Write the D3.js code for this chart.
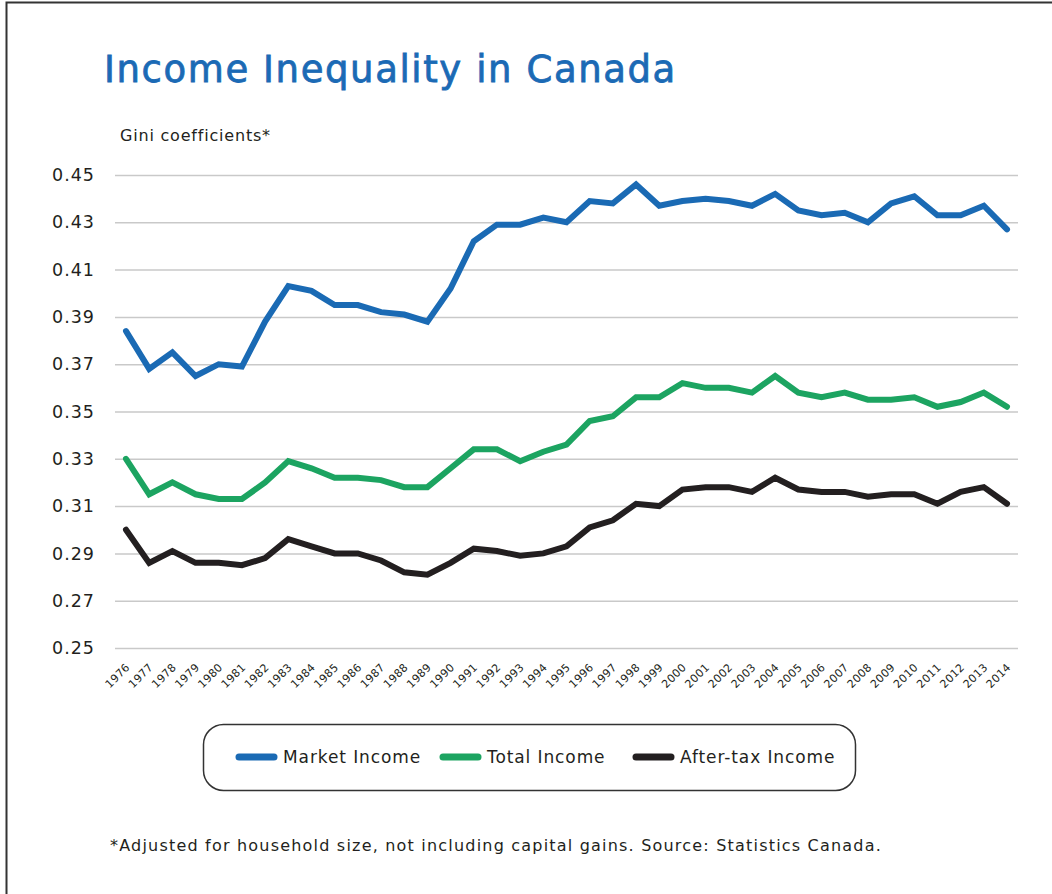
<!DOCTYPE html>
<html>
<head>
<meta charset="utf-8">
<script src="https://cdn.jsdelivr.net/npm/d3@7"></script>
<style>
  html, body { margin: 0; padding: 0; background: #fff; }
  svg { display: block; font-family: "DejaVu Sans", sans-serif; }
</style>
</head>
<body>
<div id="chart"></div>
<script>
const years = [1976, 1977, 1978, 1979, 1980, 1981, 1982, 1983, 1984, 1985, 1986, 1987, 1988, 1989,
  1990, 1991, 1992, 1993, 1994, 1995, 1996, 1997, 1998, 1999, 2000, 2001, 2002, 2003, 2004,
  2005, 2006, 2007, 2008, 2009, 2010, 2011, 2012, 2013, 2014];

const marketIncome = [0.384, 0.368, 0.375, 0.365, 0.370, 0.369, 0.388, 0.403, 0.401, 0.395, 0.395,
  0.392, 0.391, 0.388, 0.402, 0.422, 0.429, 0.429, 0.432, 0.430, 0.439, 0.438, 0.446, 0.437,
  0.439, 0.440, 0.439, 0.437, 0.442, 0.435, 0.433, 0.434, 0.430, 0.438, 0.441, 0.433, 0.433,
  0.437, 0.427];

const totalIncome = [0.330, 0.315, 0.320, 0.315, 0.313, 0.313, 0.320, 0.329, 0.326, 0.322, 0.322,
  0.321, 0.318, 0.318, 0.326, 0.334, 0.334, 0.329, 0.333, 0.336, 0.346, 0.348, 0.356, 0.356,
  0.362, 0.360, 0.360, 0.358, 0.365, 0.358, 0.356, 0.358, 0.355, 0.355, 0.356, 0.352, 0.354,
  0.358, 0.352];

const afterTaxIncome = [0.300, 0.286, 0.291, 0.286, 0.286, 0.285, 0.288, 0.296, 0.293, 0.290, 0.290,
  0.287, 0.282, 0.281, 0.286, 0.292, 0.291, 0.289, 0.290, 0.293, 0.301, 0.304, 0.311, 0.310,
  0.317, 0.318, 0.318, 0.316, 0.322, 0.317, 0.316, 0.316, 0.314, 0.315, 0.315, 0.311, 0.316,
  0.318, 0.311];

const yTicks = [0.25, 0.27, 0.29, 0.31, 0.33, 0.35, 0.37, 0.39, 0.41, 0.43, 0.45];

const seriesNames = ["Market Income", "Total Income", "After-tax Income"];
const seriesColors = ["#1a6ab4", "#1ca461", "#231f20"];

const series = [marketIncome, totalIncome, afterTaxIncome].map((vals, i) => ({
  name: seriesNames[i],
  color: seriesColors[i],
  values: vals.map((v, j) => ({ year: years[j], value: v }))
}));

const width = 1052, height = 894;
const font = "DejaVu Sans, sans-serif";

const svg = d3.select("#chart")
  .append("svg")
  .attr("width", width)
  .attr("height", height);

// frame (top and left edges only)
svg.append("path")
  .attr("d", "M6.5," + height + "V2.5H" + width)
  .attr("fill", "none")
  .attr("stroke", "#333")
  .attr("stroke-width", 2);

svg.append("text")
  .attr("x", 104)
  .attr("y", 82)
  .attr("fill", "#1b6ab5")
  .attr("stroke", "#1b6ab5")
  .attr("stroke-width", 0.8)
  .attr("font-size", 37)
  .attr("letter-spacing", 1.6)
  .text("Income Inequality in Canada");

svg.append("text")
  .attr("x", 120)
  .attr("y", 141)
  .attr("fill", "#231f20")
  .attr("font-size", 16)
  .attr("letter-spacing", 0.8)
  .text("Gini coefficients*");

const x = d3.scalePoint()
  .domain(years)
  .range([126, 1007]);

const y = d3.scaleLinear()
  .domain([0.25, 0.45])
  .range([648, 175]);

// Y axis with gridlines
const yAxis = svg.append("g")
  .attr("transform", "translate(115,0)")
  .call(d3.axisLeft(y)
    .tickValues(yTicks)
    .tickFormat(d3.format(".2f"))
    .tickSize(-903)
    .tickPadding(20));

yAxis.select(".domain").remove();
yAxis.selectAll(".tick line")
  .attr("stroke", "#c9c9c9")
  .attr("stroke-width", 1.5);
yAxis.selectAll(".tick text")
  .attr("fill", "#231f20")
  .attr("font-size", 17.5)
  .attr("letter-spacing", 1)
  .attr("font-family", font);

// X axis, rotated year labels
const xAxis = svg.append("g")
  .attr("transform", "translate(0,648)")
  .call(d3.axisBottom(x).tickSize(0));

xAxis.select(".domain").remove();
xAxis.selectAll(".tick text")
  .attr("x", 0)
  .attr("y", 0)
  .attr("dy", 0)
  .attr("text-anchor", "end")
  .attr("transform", "translate(4,20) rotate(-45)")
  .attr("fill", "#231f20")
  .attr("font-size", 11)
  .attr("letter-spacing", 0.3)
  .attr("font-family", font);

// Lines
const line = d3.line()
  .x(d => x(d.year))
  .y(d => y(d.value));

svg.selectAll(".series")
  .data(series)
  .enter()
  .append("path")
  .attr("class", "series")
  .attr("d", d => line(d.values))
  .attr("fill", "none")
  .attr("stroke", d => d.color)
  .attr("stroke-width", 6)
  .attr("stroke-linejoin", "miter")
  .attr("stroke-linecap", "round");

// Legend
svg.append("rect")
  .attr("x", 203.5)
  .attr("y", 724.5)
  .attr("width", 652)
  .attr("height", 66)
  .attr("rx", 20)
  .attr("fill", "none")
  .attr("stroke", "#333")
  .attr("stroke-width", 1.5);

const legendX = [239, 443, 636];
const legend = svg.selectAll(".legend")
  .data(series)
  .enter()
  .append("g")
  .attr("class", "legend")
  .attr("transform", (d, i) => "translate(" + legendX[i] + ",757)");

legend.append("line")
  .attr("x1", 0)
  .attr("x2", 35)
  .attr("stroke", d => d.color)
  .attr("stroke-width", 7)
  .attr("stroke-linecap", "round");

legend.append("text")
  .attr("x", 44)
  .attr("y", 6)
  .attr("fill", "#231f20")
  .attr("font-size", 17)
  .attr("letter-spacing", 0.9)
  .text(d => d.name);

svg.append("text")
  .attr("x", 110)
  .attr("y", 851)
  .attr("fill", "#231f20")
  .attr("font-size", 16)
  .attr("letter-spacing", 1.2)
  .text("*Adjusted for household size, not including capital gains. Source: Statistics Canada.");
</script>
</body>
</html>
